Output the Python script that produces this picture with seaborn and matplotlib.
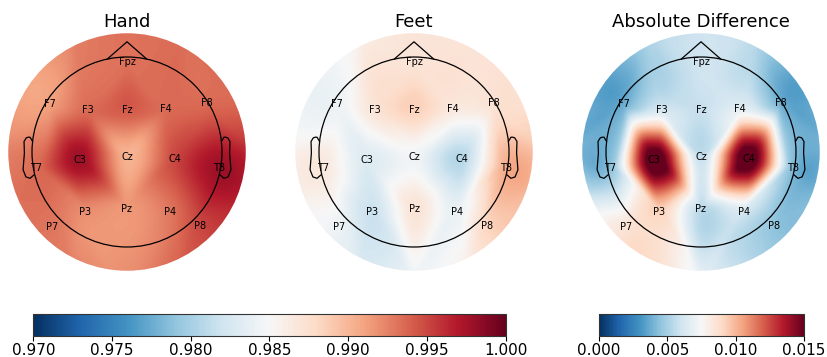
import numpy as np
import matplotlib
matplotlib.use("Agg")
import matplotlib.pyplot as plt
import matplotlib.tri as mtri
from matplotlib.patches import Circle
from matplotlib.cm import ScalarMappable
from matplotlib.colors import Normalize
import seaborn as sns

# ---------------- data ----------------
channels = ["Fpz", "F7", "F3", "Fz", "F4", "F8", "T7", "C3", "Cz", "C4",
            "T8", "P7", "P3", "Pz", "P4", "P8"]
# 2D projected montage positions (head radius = 1)
chan_x = [0.00, -0.815, -0.415, 0.00, 0.41, 0.84, -0.955, -0.50, 0.00, 0.50,
          0.965, -0.79, -0.44, 0.00, 0.45, 0.77]
chan_y = [0.95, 0.505, 0.44, 0.44, 0.45, 0.52, -0.17, -0.084, -0.05, -0.077,
          -0.165, -0.79, -0.63, -0.60, -0.63, -0.78]

hand = [0.9932, 0.9912, 0.9935, 0.9942, 0.9935, 0.9935, 0.9935, 0.9978, 0.9902, 0.9950,
        0.9978, 0.9930, 0.9920, 0.9915, 0.9930, 0.9950]
feet = [0.9870, 0.9842, 0.9870, 0.9885, 0.9865, 0.9872, 0.9865, 0.9830, 0.9845, 0.9808,
        0.9905, 0.9842, 0.9818, 0.9870, 0.9840, 0.9882]
abs_diff = [0.0060, 0.0038, 0.0062, 0.0058, 0.0068, 0.0038, 0.0045, 0.0160, 0.0057, 0.0160,
            0.0042, 0.0085, 0.0092, 0.0055, 0.0062, 0.0045]

titles = ["Hand", "Feet", "Absolute Difference"]
ranges = [(0.97, 1.0), (0.97, 1.0), (0.0, 0.015)]
cbar1_ticks = [0.970, 0.975, 0.980, 0.985, 0.990, 0.995, 1.000]
cbar2_ticks = [0.000, 0.005, 0.010, 0.015]

# ---------------- style ----------------
sns.set_style("white")
plt.rcParams["font.family"] = ["DejaVu Sans"]
cmap = sns.color_palette("RdBu_r", as_cmap=True)

W, H = 827, 357
fig = plt.figure(figsize=(W / 100, H / 100), dpi=100)

SCALE = 95.0      # px per head radius
LIM = 1.3
DISK_R = 1.25
centers_px = [(127, 152), (414, 152), (701, 152)]

ex = np.array(chan_x)
ey = np.array(chan_y)

# border points for extrapolation
n_b = 16
ang = np.linspace(0, 2 * np.pi, n_b, endpoint=False)
bx = 1.45 * np.cos(ang)
by = 1.45 * np.sin(ang)
allx = np.concatenate([ex, bx])
ally = np.concatenate([ey, by])
tri = mtri.Triangulation(allx, ally)
n_e = len(ex)
neigh = [set() for _ in range(len(allx))]
for a, b in tri.edges:
    neigh[a].add(b)
    neigh[b].add(a)

gx = np.linspace(-LIM, LIM, 320)
GX, GY = np.meshgrid(gx, gx)

# head outline
nose_dx = 0.208
nose_x = np.array([-nose_dx, 0, nose_dx])
nose_y = np.array([0.978, 1.16, 0.978])
ear_x = np.array([.497, .510, .518, .5299, .5419, .54, .547, .532, .510, .489]) * 2
ear_y = np.array([.0555, .0775, .0783, .0746, .0555, -.0055, -.0932, -.1313, -.1384, -.1199]) * 2

for i, (vals, title, (vmin, vmax)) in enumerate(zip([hand, feet, abs_diff], titles, ranges)):
    cx, cy = centers_px[i]
    half = LIM * SCALE
    ax = fig.add_axes([(cx - half) / W, (H - cy - half) / H, 2 * half / W, 2 * half / H])
    v = np.array(vals)
    bvals = []
    for k in range(n_b):
        idx = n_e + k
        nb = [j for j in neigh[idx] if j < n_e]
        if not nb:
            d = (ex - bx[k]) ** 2 + (ey - by[k]) ** 2
            nb = [int(np.argmin(d))]
        bvals.append(v[nb].mean())
    allv = np.concatenate([v, np.array(bvals)])
    interp = mtri.CubicTriInterpolator(tri, allv, kind="geom")
    Z = interp(GX, GY)
    im = ax.imshow(Z, extent=(-LIM, LIM, -LIM, LIM), origin="lower", cmap=cmap,
                   vmin=vmin, vmax=vmax, interpolation="bilinear")
    im.set_clip_path(Circle((0, 0), DISK_R, transform=ax.transData))

    # head
    ax.add_patch(Circle((0, 0), 1.0, fill=False, ec="black", lw=0.9))
    ax.plot(nose_x, nose_y, color="black", lw=0.9)
    ax.plot(ear_x, ear_y, color="black", lw=0.9)
    ax.plot(-ear_x, ear_y, color="black", lw=0.9)

    for name, x, y in zip(channels, chan_x, chan_y):
        ax.text(x, y, name, ha="center", va="center", fontsize=7, color="black")

    ax.text(0, (cy - 27) / SCALE, title, ha="center", va="baseline", fontsize=13,
            color="black", clip_on=False)
    ax.set_xlim(-LIM, LIM)
    ax.set_ylim(-LIM, LIM)
    ax.set_axis_off()

# colorbars
def add_cbar(x0, x1, vmin, vmax, ticks):
    y0, y1 = 314.3, 335.7
    cax = fig.add_axes([x0 / W, (H - y1) / H, (x1 - x0) / W, (y1 - y0) / H])
    sm = ScalarMappable(norm=Normalize(vmin, vmax), cmap=cmap)
    cb = fig.colorbar(sm, cax=cax, orientation="horizontal", ticks=ticks)
    cb.ax.set_xticklabels([f"{t:.3f}" for t in ticks])
    cb.ax.tick_params(bottom=True, length=3.5, width=0.8, labelsize=11, pad=2,
                      colors="black", labelcolor="black")
    cb.outline.set_edgecolor("#333333")
    cb.outline.set_linewidth(0.8)
    return cb

add_cbar(33.3, 505.7, 0.97, 1.0, cbar1_ticks)
add_cbar(599, 804, 0.0, 0.015, cbar2_ticks)

fig.savefig("out.png", dpi=100)
